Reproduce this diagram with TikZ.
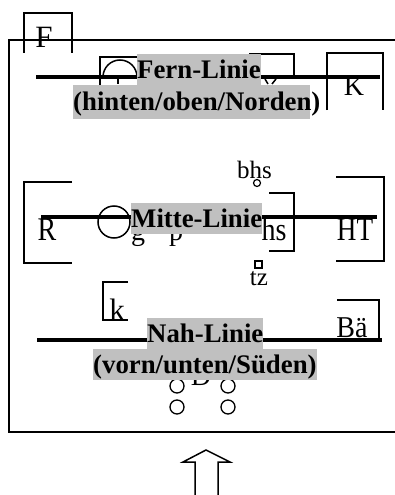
\documentclass[tikz,border=0pt]{standalone}
\usepackage{fontspec}
\setmainfont{Liberation Serif}
\definecolor{labelgray}{RGB}{192,192,192}
\begin{document}
\begin{tikzpicture}[x=1pt,y=-1pt,
  thin/.style={line width=1.5pt},
  heavy/.style={line width=4.5pt},
  lbl/.style={font=\fontsize{26.8}{30}\selectfont\bfseries, inner sep=0pt, text height=24pt, text depth=7pt, anchor=base west},
  lblfill/.style={lbl, fill=labelgray},
  sym/.style={font=\fontsize{28}{30}\selectfont, inner sep=0pt, anchor=base},
  bigsym/.style={font=\fontsize{31}{33}\selectfont, inner sep=0pt, anchor=base},
  smallsym/.style={font=\fontsize{25}{28}\selectfont, inner sep=0pt, anchor=base}]
\useasboundingbox (0,0) rectangle (395,495);
\clip (0,0) rectangle (395,495);
% frame
\draw[thin] (400,40) -- (9,40) -- (9,432) -- (400,432);
% open boxes
\draw[thin] (24,53) -- (24,13) -- (72,13) -- (72,53);      % F
\draw[thin] (327,110) -- (327,53) -- (383,53) -- (383,110); % K
\draw[thin] (100,57) rectangle (140,100);                   % box under Fern-Linie (left)
\draw[thin] (103,77) arc[start angle=180,end angle=360,radius=17];
\draw[thin] (118,77) -- (118,84);
\draw[thin] (250,54) rectangle (294,77);                    % box under Fern-Linie (right)
\draw[thin] (265,79) -- (268,84) (276,79) -- (272,84);
\draw[thin] (72,182) -- (24,182) -- (24,263) -- (72,263);   % R
\draw[thin] (269,193) -- (294,193) -- (294,251) -- (269,251); % hs
\draw[thin] (336,177) -- (384,177) -- (384,261) -- (336,261); % HT
\draw[thin] (128,282) -- (103,282) -- (103,320) -- (128,320); % k
\draw[thin] (337,300) -- (379,300) -- (379,341) -- (337,341); % Bä
% symbols
\draw[thin] (114,222) circle[radius=16];
\draw[line width=1.2pt] (257,183) circle[radius=3.5];
\draw[line width=1.2pt] (255,261) rectangle (262,268);
\foreach \cx/\cy in {177/386,228/386,177/407,228/407}
  \draw[line width=1.3pt] (\cx,\cy) circle[radius=7];
% letters
\node[bigsym] (F) at (44,48) {F};
\node[sym] (K) at (354,95) {K};
\node[sym] (R) at (47,240) {\scalebox{1}[1.18]{R}};
\node[sym] (g) at (138,240) {g};
\node[sym] (p) at (176,240) {p};
\node[sym] (hs) at (274,240) {\scalebox{1}[1.15]{hs}};
\node[sym] (HT) at (355,240) {\scalebox{0.97}[1.18]{HT}};
\node[smallsym] (bhs) at (254.5,178) {bhs};
\node[smallsym] (tz) at (259,285) {tz};
\node[bigsym] (k) at (117,320) {k};
\node[sym] (Bae) at (352,337) {\scalebox{1}[1.08]{Bä}};
\node[sym] (D) at (201,385) {D};
% lines
\draw[heavy] (36,77) -- (380,77);
\draw[heavy] (41,217) -- (377,217);
\draw[heavy] (37,340) -- (382,340);
% labels
\node[lblfill] (fern) at (137,78) {Fern-Linie};
\fill[labelgray] (73,85) rectangle (310,119);
\node[lbl] (hinten) at (73,110) {(hinten/oben/Norden)};
\node[lblfill] (mitte) at (131,227) {Mitte-Linie};
\node[lblfill] (nah) at (147,342) {Nah-Linie};
\node[lblfill] (vorn) at (93,373) {(vorn/unten/Süden)};
% arrow
\draw[thin] (195,500) -- (195,462) -- (183,462) -- (206,450) -- (230,462) -- (218,462) -- (218,500);
\end{tikzpicture}
\end{document}
